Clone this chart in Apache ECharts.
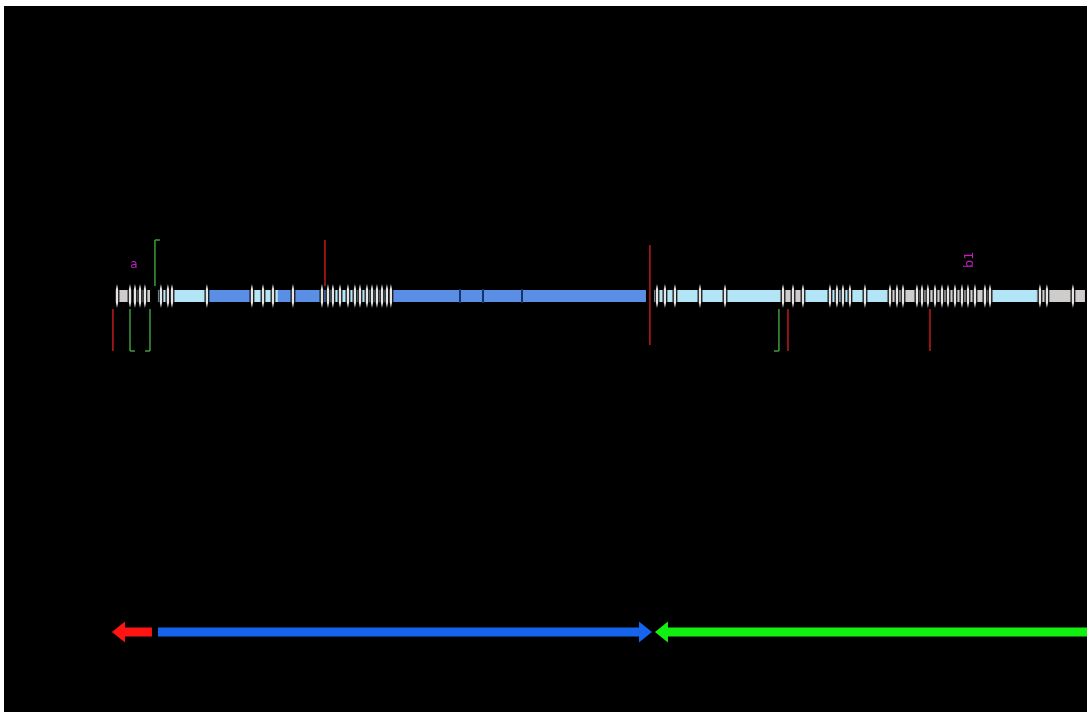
<!DOCTYPE html>
<html>
<head>
<meta charset="utf-8">
<script src="https://cdn.jsdelivr.net/npm/echarts@6/dist/echarts.min.js"></script>
<style>
  html, body { margin: 0; padding: 0; background: #ffffff; }
  #map { position: absolute; left: 4px; top: 6px; width: 1083px; height: 706px; background: #000000; }
</style>
</head>
<body>
<div id="map"></div>
<script>
// ---- Contig map data (positions in kb) ----

// Annotated blocks along the contig
const segStart = [1.0, 18.6, 44.3, 95.9, 141.2, 168.0, 217.5, 286.6, 555.7, 685.6, 711.3, 795.9, 905.2, 950.5];
const segEnd   = [16.5, 36.1, 95.9, 141.2, 168.0, 217.5, 286.6, 547.4, 685.6, 711.3, 795.9, 905.2, 950.5, 1000.0];
const segKind  = ['other', 'other', 'light', 'mid', 'light', 'mid', 'light', 'mid', 'light', 'other', 'light', 'other', 'light', 'other'];

// Small genes (w) and block boundaries (d)
const tickPos = [2.1, 15.5, 20.6, 25.8, 30.9, 47.4, 54.6, 58.8, 94.8, 141.2, 152.6, 162.9, 183.5, 213.4,
  219.6, 224.7, 232.0, 240.2, 247.4, 252.6, 259.8, 265.0, 270.1, 275.3, 280.4, 284.5,
  355.7, 379.4, 419.6,
  558.8, 567.0, 577.3, 603.1, 628.9, 688.7, 699.0, 709.3, 737.1, 744.3, 750.5, 757.7, 773.2,
  799.0, 806.2, 812.4, 826.8, 832.0, 838.1, 845.4, 852.6, 858.8, 866.0, 873.2, 879.4, 886.6, 896.9, 902.1,
  953.6, 960.8, 987.6];
const tickKind = ['w', 'w', 'w', 'w', 'w', 'w', 'w', 'w', 'w', 'w', 'w', 'w', 'w', 'w',
  'w', 'w', 'w', 'w', 'w', 'w', 'w', 'w', 'w', 'w', 'w', 'w',
  'd', 'd', 'd',
  'w', 'w', 'w', 'w', 'w', 'w', 'w', 'w', 'w', 'w', 'w', 'w', 'w',
  'w', 'w', 'w', 'w', 'w', 'w', 'w', 'w', 'w', 'w', 'w', 'w', 'w', 'w', 'w',
  'w', 'w', 'w'];

// Sites (red) and primers (green); side of the track and bracket hook direction
const markerPos  = [-2.1, 15.5, 36.1, 41.2, 216.5, 551.5, 684.5, 693.8, 840.2];
const markerKind = ['site', 'primer', 'primer', 'primer', 'site', 'site', 'primer', 'site', 'site'];
const markerSide = ['below', 'below', 'below', 'above', 'above', 'both', 'below', 'below', 'below'];
const markerHook = [0, 1, -1, 1, 0, 0, -1, 0, 0];

// Text annotations
const labelText = ['a', 'b1'];
const labelPos  = [19.6, 881.4];
const labelVertical = [false, true];

// Operon / transcript arrows
const arrowStart = [-3.1, 44.3, 556.7];
const arrowEnd   = [38.1, 553.6, 1002.1];
const arrowDir   = [-1, 1, -1];
const arrowGroup = ['A', 'B', 'C'];

// ---- Styling ----
const TRACK_Y = 290;   // y-axis units = pixels within the panel
const ARROW_Y = 626;
const BAR_H = 12;
const SEG_COLORS = { other: '#cfcccc', light: '#b2e6f6', mid: '#5b8fe6' };
const MARKER_COLORS = { site: '#c01a1a', primer: '#3f9a3f' };
const ARROW_COLORS = { A: '#ff1414', B: '#1663ee', C: '#12f012' };
const ARROW_BODY = 9, ARROW_HEAD_LEN = 13, ARROW_HEAD_W = 21;

function renderSegment(params, api) {
  const a = api.coord([api.value(0), TRACK_Y]);
  const b = api.coord([api.value(1), TRACK_Y]);
  return {
    type: 'rect',
    shape: { x: a[0], y: a[1] - BAR_H / 2, width: b[0] - a[0], height: BAR_H },
    style: { fill: SEG_COLORS[segKind[params.dataIndex]] }
  };
}

function renderTick(params, api) {
  const p = api.coord([api.value(0), TRACK_Y]);
  const x = p[0], y = p[1];
  if (tickKind[params.dataIndex] === 'd') {
    return { type: 'rect', shape: { x: x - 1, y: y - 7, width: 2, height: 14 }, style: { fill: '#17336e' } };
  }
  return {
    type: 'group',
    children: [
      { type: 'rect', shape: { x: x - 2.4, y: y - BAR_H / 2, width: 4.8, height: BAR_H }, style: { fill: '#000000' } },
      { type: 'polygon',
        shape: { points: [[x, y - 12], [x + 1.2, y - 6], [x + 1.2, y + 6], [x, y + 12], [x - 1.2, y + 6], [x - 1.2, y - 6]] },
        style: { fill: '#e6e6e6' } }
    ]
  };
}

function renderMarker(params, api) {
  const i = params.dataIndex;
  const p = api.coord([api.value(0), TRACK_Y]);
  const side = markerSide[i];
  let y0, y1;
  if (side === 'below') { y0 = p[1] + 13; y1 = p[1] + 55; }
  else if (side === 'above') { y0 = p[1] - 56; y1 = p[1] - 10; }
  else { y0 = p[1] - 51; y1 = p[1] + 49; }
  const color = MARKER_COLORS[markerKind[i]];
  const children = [
    { type: 'line', shape: { x1: p[0], y1: y0, x2: p[0], y2: y1 }, style: { stroke: color, lineWidth: 1.5 } }
  ];
  const hook = markerHook[i];
  if (hook) {
    const hy = side === 'above' ? y0 : y1;
    children.push({ type: 'line', shape: { x1: p[0], y1: hy, x2: p[0] + hook * 5, y2: hy }, style: { stroke: color, lineWidth: 1.5 } });
  }
  return { type: 'group', children: children };
}

function renderLabel(params, api) {
  const i = params.dataIndex;
  const p = api.coord([api.value(0), TRACK_Y]);
  const vertical = labelVertical[i];
  return {
    type: 'text',
    x: p[0],
    y: p[1] - (vertical ? 28 : 25),
    rotation: vertical ? Math.PI / 2 : 0,
    style: {
      text: labelText[i],
      fill: '#c21fc2',
      font: (vertical ? '13px' : '12px') + ' "DejaVu Sans", sans-serif',
      align: vertical ? 'left' : 'center',
      verticalAlign: vertical ? 'middle' : 'bottom'
    }
  };
}

function renderArrow(params, api) {
  const i = params.dataIndex;
  const a = api.coord([api.value(0), ARROW_Y]);
  const b = api.coord([api.value(1), ARROW_Y]);
  const y = a[1], hw = ARROW_BODY / 2, hh = ARROW_HEAD_W / 2, hl = ARROW_HEAD_LEN;
  let pts;
  if (arrowDir[i] > 0) {
    const tip = b[0], base = tip - hl;
    pts = [[a[0], y - hw], [base, y - hw], [base, y - hh], [tip, y], [base, y + hh], [base, y + hw], [a[0], y + hw]];
  } else {
    const tip = a[0], base = tip + hl;
    pts = [[b[0], y - hw], [base, y - hw], [base, y - hh], [tip, y], [base, y + hh], [base, y + hw], [b[0], y + hw]];
  }
  return { type: 'polygon', shape: { points: pts }, style: { fill: ARROW_COLORS[arrowGroup[i]] } };
}

const chart = echarts.init(document.getElementById('map'), null, { renderer: 'canvas' });
chart.setOption({
  backgroundColor: '#000000',
  animation: false,
  grid: { left: 0, right: 0, top: 0, bottom: 0 },
  xAxis: { type: 'value', min: -114.4, max: 1002.1, show: false },
  yAxis: { type: 'value', min: 0, max: 706, inverse: true, show: false },
  series: [
    { type: 'custom', clip: false, renderItem: renderSegment, encode: { x: [0, 1] },
      data: segStart.map((s, i) => [s, segEnd[i]]) },
    { type: 'custom', clip: false, renderItem: renderTick, encode: { x: 0 },
      data: tickPos.map(v => [v]) },
    { type: 'custom', clip: false, renderItem: renderMarker, encode: { x: 0 },
      data: markerPos.map(v => [v]) },
    { type: 'custom', clip: false, renderItem: renderLabel, encode: { x: 0 },
      data: labelPos.map(v => [v]) },
    { type: 'custom', clip: false, renderItem: renderArrow, encode: { x: [0, 1] },
      data: arrowStart.map((s, i) => [s, arrowEnd[i]]) }
  ]
});
</script>
</body>
</html>
